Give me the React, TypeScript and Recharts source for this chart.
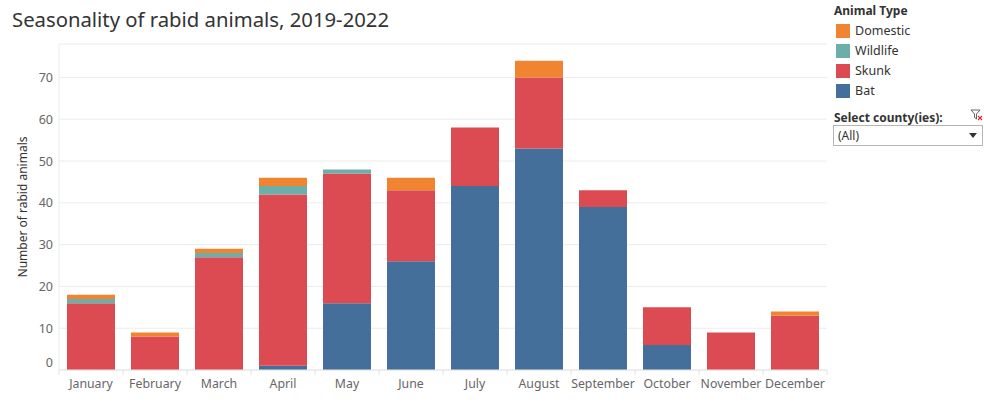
import React from "react";
import { BarChart, Bar, XAxis, YAxis, CartesianGrid, Label } from "recharts";

const months = ["January", "February", "March", "April", "May", "June", "July", "August", "September", "October", "November", "December"];
const bat = [0, 0, 0, 1, 16, 26, 44, 53, 39, 6, 0, 0];
const skunk = [16, 8, 27, 41, 31, 17, 14, 17, 4, 9, 9, 13];
const wildlife = [1, 0, 1, 2, 1, 0, 0, 0, 0, 0, 0, 0];
const domestic = [1, 1, 1, 2, 0, 3, 0, 4, 0, 0, 0, 1];
const yTicks = [0, 10, 20, 30, 40, 50, 60, 70];

const COLORS = { Domestic: "#F08431", Wildlife: "#6BAEAA", Skunk: "#DC4B51", Bat: "#436F9A" };
const legendItems = ["Domestic", "Wildlife", "Skunk", "Bat"];

const data = months.map((m, i) => ({
  month: m,
  Bat: bat[i],
  Skunk: skunk[i],
  Wildlife: wildlife[i],
  Domestic: domestic[i],
}));

const FONT = "'Noto Sans', sans-serif";

const XTick = (props: any) => {
  const { x, y, payload, index, visibleTicksCount } = props;
  const half = 32;
  return (
    <g>
      <line x1={x - half} x2={x - half} y1={y} y2={y + 5} stroke="#e3e3e3" />
      {index === visibleTicksCount - 1 && (
        <line x1={x + half} x2={x + half} y1={y} y2={y + 5} stroke="#e3e3e3" />
      )}
      <text x={x} y={y + 13} textAnchor="middle" dominantBaseline="central" fill="#666" fontSize={12.3} fontFamily={FONT}>
        {payload.value}
      </text>
    </g>
  );
};

const YTick = (props: any) => {
  const { x, y, payload } = props;
  const dy = payload.value === 0 ? -8 : 0;
  return (
    <text x={x} y={y + dy} textAnchor="end" dominantBaseline="central" fill="#666" fontSize={12.5} fontFamily={FONT}>
      {payload.value}
    </text>
  );
};

export default function App() {
  return (
    <div style={{ position: "absolute", left: 0, top: 0, width: 984, height: 413, background: "#fff", fontFamily: FONT }}>
      <div style={{ position: "absolute", left: 12, top: 5, fontSize: 20.3, color: "#333", whiteSpace: "nowrap" }}>
        Seasonality of rabid animals, 2019-2022
      </div>
      <BarChart
        width={984}
        height={413}
        data={data}
        margin={{ top: 44, right: 157, bottom: 0, left: 0 }}
        barCategoryGap="12.5%"
      >
        <CartesianGrid horizontal vertical={false} stroke="#ececec" />
        <XAxis
          dataKey="month"
          height={43}
          tickLine={false}
          tickSize={0}
          tickMargin={0}
          axisLine={{ stroke: "#e6e6e6" }}
          tick={<XTick />}
          interval={0}
        />
        <YAxis
          width={59}
          domain={[0, 78]}
          ticks={yTicks}
          tickLine={false}
          tickSize={0}
          tickMargin={6}
          axisLine={{ stroke: "#ececec" }}
          tick={<YTick />}
        >
          <Label
            value="Number of rabid animals"
            angle={-90}
            position="insideLeft"
            offset={0}
            content={(p: any) => {
              const vb = p.viewBox || {};
              const cy = (vb.y || 0) + (vb.height || 0) / 2;
              return (
                <text x={22} y={cy} transform={`rotate(-90 22 ${cy})`} textAnchor="middle" dominantBaseline="central" fill="#333" fontSize={12} fontFamily={FONT}>
                  Number of rabid animals
                </text>
              );
            }}
          />
        </YAxis>
        <Bar dataKey="Bat" stackId="a" fill={COLORS.Bat} isAnimationActive={false} />
        <Bar dataKey="Skunk" stackId="a" fill={COLORS.Skunk} isAnimationActive={false} />
        <Bar dataKey="Wildlife" stackId="a" fill={COLORS.Wildlife} isAnimationActive={false} />
        <Bar dataKey="Domestic" stackId="a" fill={COLORS.Domestic} isAnimationActive={false} />
      </BarChart>
      <div style={{ position: "absolute", left: 834, top: 2, fontSize: 12, fontWeight: 700, color: "#333" }}>Animal Type</div>
      {legendItems.map((k, i) => (
        <div key={k} style={{ position: "absolute", left: 836, top: 24 + i * 20, height: 14, display: "flex", alignItems: "center" }}>
          <div style={{ width: 14, height: 14, background: (COLORS as any)[k] }} />
          <div style={{ marginLeft: 5, fontSize: 12.5, color: "#333", lineHeight: "14px" }}>{k}</div>
        </div>
      ))}
      <div style={{ position: "absolute", left: 834, top: 109, fontSize: 12, fontWeight: 700, color: "#333" }}>Select county(ies):</div>
      <svg style={{ position: "absolute", left: 970, top: 109 }} width={14} height={12}>
        <path d="M1 1 H10 L6.5 5 V10 L4.5 8.5 V5 Z" fill="none" stroke="#555" strokeWidth={0.9} />
        <path d="M8 7 L12 11 M12 7 L8 11" stroke="#d9272e" strokeWidth={1.1} />
      </svg>
      <div style={{ position: "absolute", left: 833, top: 125, width: 148, height: 19, border: "1px solid #b5b5b5", background: "#fff" }}>
        <div style={{ position: "absolute", left: 4, top: 0, lineHeight: "19px", fontSize: 12, color: "#333" }}>(All)</div>
        <svg style={{ position: "absolute", right: 5, top: 7 }} width={8} height={6}>
          <path d="M0 0 H8 L4 5 Z" fill="#333" />
        </svg>
      </div>
    </div>
  );
}
